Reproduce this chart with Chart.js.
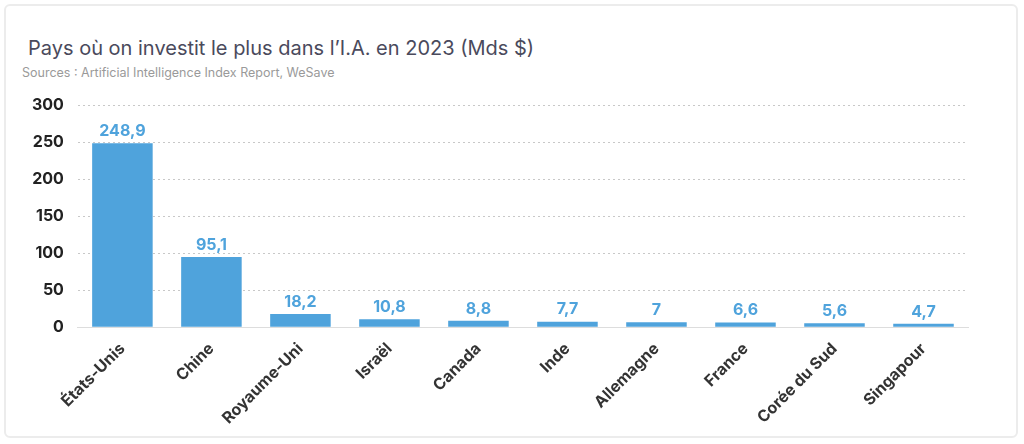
<!DOCTYPE html>
<html><head><meta charset="utf-8">
<script src="https://cdn.jsdelivr.net/npm/chart.js@4"></script>
<style>
html,body{margin:0;padding:0;background:#fff;}
#wrap{position:absolute;left:4px;top:4px;width:1014px;height:434px;border:2px solid #ececec;border-radius:6px;box-sizing:border-box;font-family:Inter, "Open Sans", sans-serif;}
#t{position:absolute;left:22px;top:30px;font-size:20px;color:#4a4a5c;}
#s{position:absolute;left:16px;top:59px;font-size:12.5px;color:#9a9a9a;}
#c{position:absolute;left:0;top:76px;width:1010px;height:354px;}
</style></head><body>
<div id="wrap"><div id="t">Pays où on investit le plus dans l’I.A. en 2023 (Mds $)</div>
<div id="s">Sources : Artificial Intelligence Index Report, WeSave</div>
<div id="c"><canvas id="cv"></canvas></div></div>
<script>
const categories=["États-Unis","Chine","Royaume-Uni","Israël","Canada","Inde","Allemagne","France","Corée du Sud","Singapour"];
const values=[248.9,95.1,18.2,10.8,8.8,7.7,7,6.6,5.6,4.7];
const yTicks=[0,50,100,150,200,250,300];
const labelsPlugin={id:'lbl',afterDatasetsDraw(ch){const ctx=ch.ctx;const m=ch.getDatasetMeta(0);ctx.save();ctx.fillStyle='#4fa3dc';ctx.font='bold 16px Inter, sans-serif';ctx.textAlign='center';ctx.textBaseline='bottom';
m.data.forEach((b,i)=>{ctx.fillText(String(values[i]).replace('.',','),b.x,b.y-4);});ctx.restore();}};
new Chart(document.getElementById('cv'),{type:'bar',data:{labels:categories,datasets:[{data:values,backgroundColor:'#4fa3dc',barPercentage:0.68,categoryPercentage:1}]},
options:{responsive:true,maintainAspectRatio:false,animation:false,layout:{padding:{left:12,right:48,top:14,bottom:4}},
plugins:{legend:{display:false},tooltip:{enabled:false}},
scales:{y:{min:0,max:300,afterBuildTicks:s=>{s.ticks=yTicks.map(v=>({value:v}));},border:{display:false,dash:[2,3]},
grid:{color:'#c8c8c8',lineWidth:1,tickLength:0,drawTicks:false},
ticks:{color:'#222',font:{size:16,weight:'bold',family:'Inter'},padding:14}},
x:{grid:{display:false},border:{color:'#ddd'},ticks:{color:'#333',font:{size:16,weight:'bold',family:'Inter'},maxRotation:45,minRotation:45,padding:4}}}},
plugins:[labelsPlugin]});
</script></body></html>
